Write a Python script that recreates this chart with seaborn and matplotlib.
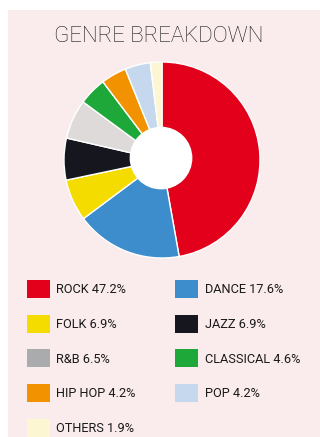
import matplotlib
matplotlib.use("Agg")
import matplotlib.pyplot as plt
import seaborn as sns
from matplotlib.patches import Patch, Rectangle, Circle

sns.set_theme(style="white")
plt.rcParams['font.family'] = ['Roboto', 'DejaVu Sans']

# Data
genres = ["ROCK", "DANCE", "FOLK", "JAZZ", "R&B", "CLASSICAL", "HIP HOP", "POP", "OTHERS"]
shares = [47.2, 17.6, 6.9, 6.9, 6.5, 4.6, 4.2, 4.2, 1.9]
title = "GENRE BREAKDOWN"

# Styles
pie_colors = ["#e2001a", "#3d8ccc", "#f4dc00", "#16161e", "#dedad9",
              "#1fa83a", "#f39200", "#c6d8ee", "#fdf6d3"]
legend_colors = ["#e2001a", "#3d8ccc", "#f4dc00", "#16161e", "#a9abad",
                 "#1fa83a", "#f39200", "#c6d8ee", "#fdf6d3"]
bg = "#faeced"

W, H = 320, 437
fig = plt.figure(figsize=(W / 100, H / 100), dpi=100, facecolor="white")
fig.patches.append(Rectangle((8 / W, 0), 1, 1 - 10 / H, transform=fig.transFigure,
                             facecolor=bg, edgecolor="none", zorder=-10))

# Pie axes: centre (162,160) px, radius 98 px
cx, cy, r = 162, 160, 98
ax = fig.add_axes([(cx - r) / W, (H - cy - r) / H, 2 * r / W, 2 * r / H])
ax.set_facecolor("none")
ax.set_zorder(2)
ax.pie(shares, colors=pie_colors, startangle=90, counterclock=False,
       radius=1.0, wedgeprops=dict(edgecolor="white", linewidth=1.0))
ax.add_patch(Circle((-0.01, 0.02), 0.32, facecolor="white", edgecolor="none", zorder=5))
ax.set_xlim(-1, 1)
ax.set_ylim(-1, 1)
ax.set_aspect("equal")
ax.axis("off")

fig.text(159 / W, 1 - 36 / H, title, ha="center", va="center",
         fontsize=16, fontweight="light", color="#1a1a1a")

# Legend: two columns filled column-first
order = [0, 2, 4, 6, 8, 1, 3, 5, 7]
handles = [Patch(facecolor=legend_colors[i], edgecolor="none") for i in order]
labels = [f"{genres[i]} {shares[i]}%" for i in order]
leg = fig.legend(handles, labels, ncol=2, loc="upper left",
                 bbox_to_anchor=(27 / W, 1 - 280 / H), bbox_transform=fig.transFigure,
                 frameon=False, fontsize=9.2, handlelength=1.8, handleheight=1.8,
                 handletextpad=0.5, labelspacing=1.3, columnspacing=3.1,
                 borderpad=0, borderaxespad=0, labelcolor="#1a1a1a")
leg.set_zorder(3)

fig.savefig("out.png", dpi=100, facecolor="white")
